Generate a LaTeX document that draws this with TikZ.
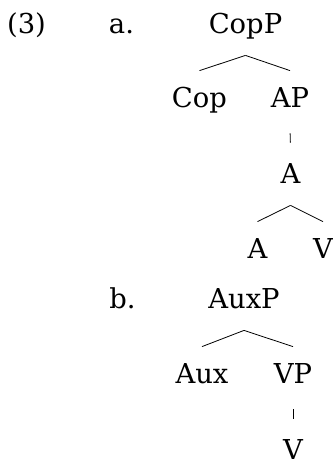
\documentclass[tikz,border=0pt]{standalone}
\usepackage{fontspec}
\setmainfont{DejaVu Serif}
\usetikzlibrary{calc}

\begin{document}
\begin{tikzpicture}[x=0.5pt,y=-0.5pt,
    every node/.style={font=\fontsize{13.7}{16}\selectfont,anchor=base,inner xsep=0pt},
    cat/.style={text height=10pt,text depth=3pt,inner ysep=8pt},
    unary/.style={shorten <=2pt,shorten >=2pt}]
  \useasboundingbox (0,0) rectangle (333,463);
  % (3a)
  \node (ex)   at (26.5,33)  {(3)};
  \node (lbla) at (121.5,33) {a.};
  \node[cat] (copP) at (245.5,33)  {CopP};
  \node[cat] (cop)  at (199.5,107) {Cop};
  \node[cat] (aP)   at (290,107)   {AP};
  \node[cat] (aBar) at (290.5,183) {A};
  \node[cat] (aA)   at (257.5,258) {A};
  \node[cat] (aV)   at (323,258)   {V};
  \draw (copP.south) -- (cop.north);
  \draw (copP.south) -- (aP.north);
  \draw[unary] (aP.south) -- (aBar.north);
  \draw (aBar.south) -- (aA.north);
  \draw (aBar.south) -- (aV.north);
  % (3b)
  \node (lblb) at (122.5,308) {b.};
  \node[cat] (auxP) at (244,308) {AuxP};
  \node[cat] (aux)  at (202,383) {Aux};
  \node[cat] (vP)   at (293,383) {VP};
  \node[cat] (bV)   at (293,459) {V};
  \draw (auxP.south) -- (aux.north);
  \draw (auxP.south) -- (vP.north);
  \draw[unary] (vP.south) -- (bV.north);
\end{tikzpicture}
\end{document}
